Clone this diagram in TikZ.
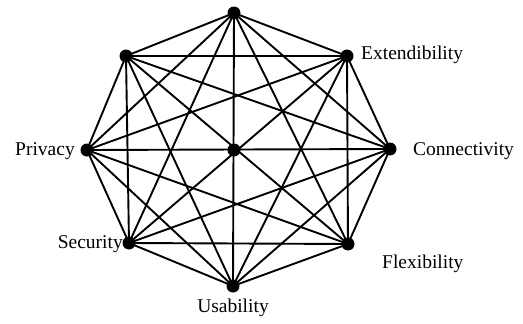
\documentclass[tikz,border=0pt]{standalone}
\usepackage{fontspec}
\setmainfont{Liberation Serif}
\begin{document}
\begin{tikzpicture}[x=1pt,y=-1pt,
  vtx/.style={circle,fill=black,inner sep=0pt,minimum size=13pt},
  lbl/.style={font=\fontsize{19.5}{23}\selectfont,inner sep=0pt},
  edge/.style={line width=1.9pt}]
\useasboundingbox (0,0) rectangle (523,324);
% outer vertices, clockwise from the top
\node[vtx] (v1) at (234,13) {};
\node[vtx] (v2) at (347,56) {};
\node[vtx] (v3) at (390,149) {};
\node[vtx] (v4) at (348,244) {};
\node[vtx] (v5) at (233,286) {};
\node[vtx] (v6) at (129,243) {};
\node[vtx] (v7) at (87,150) {};
\node[vtx] (v8) at (126,56) {};
\node[vtx] (c) at (234,150) {};
% every pair of outer vertices is joined
\foreach \i in {1,...,8}{
  \foreach \j in {\i,...,8}{
    \ifnum\i<\j
      \draw[edge] (v\i.center) -- (v\j.center);
    \fi
  }
}
% labels
\node[lbl,anchor=west] (l2) at (361,55) {Extendibility};
\node[lbl,anchor=west] (l3) at (413,151) {Connectivity};
\node[lbl,anchor=west] (l4) at (382,264) {Flexibility};
\node[lbl,anchor=north] (l5) at (233,299) {Usability};
\node[lbl,anchor=east] (l6) at (123,244) {Security};
\node[lbl,anchor=east] (l7) at (75,151) {Privacy};
\end{tikzpicture}
\end{document}
